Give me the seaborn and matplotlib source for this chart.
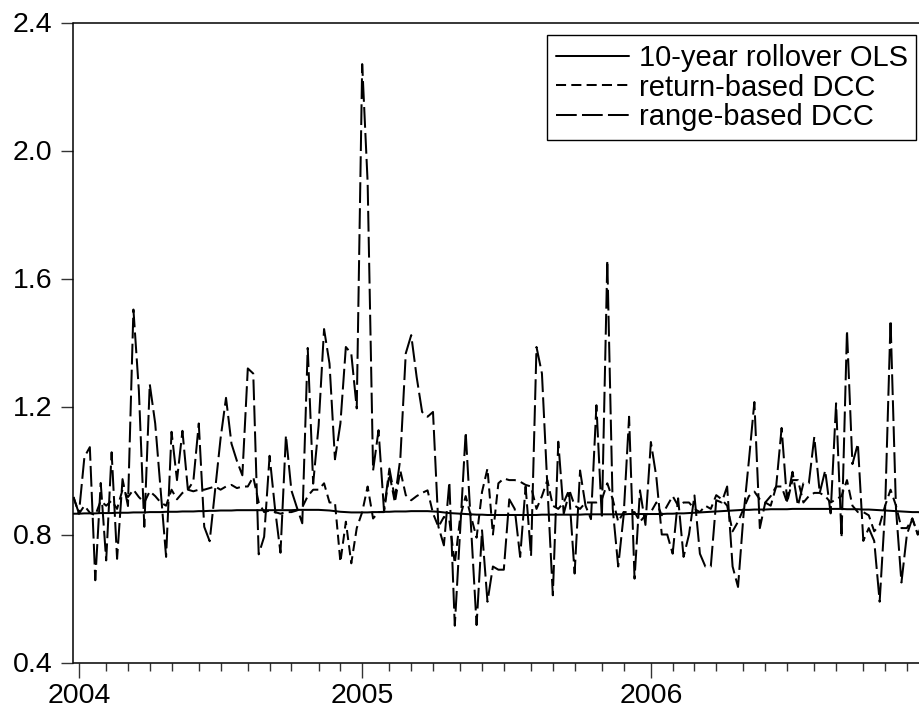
import matplotlib
matplotlib.use("Agg")
import matplotlib.pyplot as plt
from matplotlib.lines import Line2D
import numpy as np
import pandas as pd
import seaborn as sns

# ---------------- data (weekly observations) ----------------
start_date = "2003-12-27"
n_obs = 157

ols_10y = [
    0.865, 0.865, 0.866, 0.866, 0.866, 0.867, 0.867, 0.867, 0.868, 0.868,
    0.868, 0.869, 0.869, 0.869, 0.870, 0.870, 0.870, 0.871, 0.871, 0.871,
    0.872, 0.872, 0.872, 0.873, 0.873, 0.874, 0.874, 0.875, 0.875, 0.875,
    0.876, 0.876, 0.876, 0.876, 0.876, 0.876, 0.876, 0.876, 0.876, 0.876,
    0.876, 0.877, 0.877, 0.877, 0.877, 0.877, 0.876, 0.875, 0.873, 0.871,
    0.870, 0.869, 0.869, 0.869, 0.869, 0.870, 0.870, 0.871, 0.871, 0.872,
    0.872, 0.872, 0.873, 0.873, 0.873, 0.873, 0.872, 0.871, 0.869, 0.867,
    0.866, 0.865, 0.864, 0.863, 0.862, 0.862, 0.861, 0.861, 0.861, 0.861,
    0.861, 0.861, 0.861, 0.861, 0.861, 0.861, 0.862, 0.862, 0.862, 0.862,
    0.862, 0.862, 0.862, 0.862, 0.863, 0.863, 0.863, 0.863, 0.863, 0.863,
    0.863, 0.863, 0.864, 0.864, 0.864, 0.864, 0.864, 0.864, 0.864, 0.865,
    0.865, 0.866, 0.866, 0.867, 0.868, 0.869, 0.870, 0.871, 0.872, 0.873,
    0.874, 0.875, 0.876, 0.877, 0.877, 0.878, 0.878, 0.878, 0.879, 0.879,
    0.879, 0.879, 0.880, 0.880, 0.880, 0.880, 0.880, 0.880, 0.880, 0.880,
    0.880, 0.880, 0.879, 0.879, 0.879, 0.878, 0.878, 0.877, 0.876, 0.875,
    0.874, 0.873, 0.872, 0.871, 0.870, 0.870, 0.869,
]

return_dcc = [
    0.917, 0.865, 0.890, 0.868, 0.860, 0.905, 0.890, 0.906, 0.880, 0.940,
    0.917, 0.940, 0.917, 0.900, 0.935, 0.920, 0.900, 0.890, 0.940, 0.910,
    0.930, 0.940, 0.935, 0.940, 0.940, 0.945, 0.950, 0.940, 0.950, 0.955,
    0.945, 0.950, 0.950, 0.980, 0.900, 0.870, 0.875, 0.870, 0.865, 0.870,
    0.870, 0.875, 0.885, 0.920, 0.940, 0.940, 0.960, 0.900, 0.900, 0.714,
    0.840, 0.710, 0.820, 0.870, 0.950, 0.850, 0.870, 0.870, 0.990, 0.900,
    1.000, 0.923, 0.907, 0.920, 0.930, 0.938, 0.866, 0.824, 0.855, 0.845,
    0.709, 0.855, 0.920, 0.855, 0.790, 0.933, 1.006, 0.800, 0.960, 0.975,
    0.970, 0.970, 0.965, 0.955, 0.950, 0.880, 0.920, 0.970, 0.890, 0.880,
    0.900, 0.940, 0.890, 0.880, 0.900, 0.900, 0.900, 0.910, 0.960, 0.910,
    0.840, 0.870, 0.870, 0.870, 0.840, 0.860, 0.870, 0.900, 0.860, 0.890,
    0.920, 0.890, 0.900, 0.900, 0.880, 0.870, 0.890, 0.880, 0.923, 0.910,
    0.890, 0.810, 0.840, 0.880, 0.920, 0.934, 0.910, 0.900, 0.920, 0.950,
    0.950, 0.900, 0.970, 0.970, 0.900, 0.920, 0.930, 0.930, 0.920, 0.900,
    0.910, 0.920, 0.970, 0.890, 0.870, 0.870, 0.860, 0.810, 0.830, 0.890,
    0.940, 0.890, 0.820, 0.820, 0.850, 0.800, 0.820,
]

range_dcc = [
    0.917, 0.866, 1.042, 1.073, 0.657, 0.961, 0.719, 1.057, 0.724, 0.973,
    0.889, 1.503, 1.250, 0.824, 1.270, 1.147, 0.940, 0.730, 1.121, 0.970,
    1.124, 0.940, 0.966, 1.147, 0.824, 0.779, 0.940, 1.100, 1.227, 1.084,
    1.030, 0.985, 1.319, 1.303, 0.738, 0.793, 1.046, 0.880, 0.743, 1.110,
    0.938, 0.885, 0.835, 1.383, 0.959, 1.140, 1.442, 1.334, 1.035, 1.147,
    1.386, 1.365, 1.194, 2.270, 1.900, 1.000, 1.126, 0.876, 1.006, 0.913,
    1.037, 1.366, 1.423, 1.292, 1.183, 1.168, 1.183, 0.824, 0.766, 0.964,
    0.515, 0.820, 1.120, 0.821, 0.517, 0.813, 0.590, 0.700, 0.690, 0.690,
    0.910, 0.880, 0.730, 0.950, 0.733, 1.386, 1.303, 0.950, 0.610, 1.090,
    0.865, 0.930, 0.678, 1.000, 0.890, 0.848, 1.204, 0.850, 1.657, 0.880,
    0.700, 0.860, 1.168, 0.662, 0.938, 0.830, 1.089, 0.980, 0.800, 0.800,
    0.740, 0.913, 0.730, 0.800, 0.922, 0.740, 0.700, 0.700, 0.907, 0.900,
    0.950, 0.700, 0.636, 0.860, 1.032, 1.214, 0.820, 0.900, 0.890, 0.950,
    1.133, 0.905, 0.996, 0.890, 0.960, 0.960, 1.105, 0.930, 1.000, 0.866,
    1.210, 0.790, 1.438, 1.020, 1.084, 0.780, 0.820, 0.780, 0.590, 0.878,
    1.470, 0.880, 0.650, 0.800, 0.850, 0.800, 0.840,
]

series_names = ["10-year rollover OLS", "return-based DCC", "range-based DCC"]
y_ticks = [0.4, 0.8, 1.2, 1.6, 2.0, 2.4]

# ---------------- build frame ----------------
dates = pd.date_range(start_date, periods=n_obs, freq="7D")
df = pd.concat([
    pd.DataFrame({"date": dates, "value": ols_10y, "series": series_names[0]}),
    pd.DataFrame({"date": dates, "value": return_dcc, "series": series_names[1]}),
    pd.DataFrame({"date": dates, "value": range_dcc, "series": series_names[2]}),
], ignore_index=True)

# ---------------- styling ----------------
sns.set_style("white")
plt.rcParams["font.family"] = ["Liberation Sans", "DejaVu Sans"]
plt.rcParams["text.color"] = "black"

LW = 1.45
dash_map = {
    series_names[0]: "",
    series_names[1]: (5.0, 2.6),
    series_names[2]: (10.3, 2.6),
}

fig = plt.figure(figsize=(9.2, 7.09), dpi=100)
W, H = 920.0, 709.0
left_px, right_px, top_px, bot_px = 73.5, 935.0, 22.5, 662.5
ax = fig.add_axes([left_px / W, (H - bot_px) / H,
                   (right_px - left_px) / W, (bot_px - top_px) / H])

sns.lineplot(data=df, x="date", y="value", hue="series", style="series",
             palette=["black"] * 3, dashes=dash_map, linewidth=LW,
             estimator=None, legend=False, ax=ax)

# ---------------- axes ----------------
week = pd.Timedelta(days=7)
ax.set_xlim(dates[0], dates[0] + week * ((right_px - left_px) / 5.447))
ax.set_ylim(y_ticks[0], y_ticks[-1])
ax.set_yticks(y_ticks)
ax.set_yticklabels([f"{t:.1f}" for t in y_ticks])

s = pd.Series(dates)
month_first = s.groupby([s.dt.year, s.dt.month]).first()
year_first = s[s.dt.year >= 2004].groupby(s.dt.year).first()
major = list(year_first)
minor = [d for d in month_first if d not in major and d.year >= 2004]
ax.set_xticks(major)
ax.set_xticklabels([str(d.year) for d in major])
ax.set_xticks(minor, minor=True)

ax.set_xlabel("")
ax.set_ylabel("")
for sp in ax.spines.values():
    sp.set_visible(True)
    sp.set_color("black")
    sp.set_linewidth(1.1)

ax.tick_params(axis="y", which="major", direction="out", length=9, width=1,
               color="#333333", labelcolor="black", labelsize=20.5, pad=6,
               left=True)
ax.tick_params(axis="x", which="major", direction="out", length=11, width=1,
               color="#333333", labelcolor="black", labelsize=20.5, pad=4,
               bottom=True)
ax.tick_params(axis="x", which="minor", direction="out", length=6, width=1,
               color="#333333", bottom=True)

# ---------------- legend ----------------
handles = [Line2D([0], [0], color="black", lw=LW, linestyle="-")]
for name in series_names[1:]:
    h = Line2D([0], [0], color="black", lw=LW)
    h.set_dashes(dash_map[name])
    handles.append(h)
leg = ax.legend(handles, series_names, loc="upper right",
                bbox_to_anchor=(916.5 / W, (H - 35) / H),
                bbox_transform=fig.transFigure,
                fontsize=21, frameon=True, fancybox=False, shadow=False,
                framealpha=1, edgecolor="black", handlelength=2.5,
                handletextpad=0.35, labelspacing=0.06, borderpad=0.3,
                borderaxespad=0)
leg.get_frame().set_linewidth(1.0)
for t in leg.get_texts():
    t.set_color("black")

fig.savefig("out.png", dpi=100)
